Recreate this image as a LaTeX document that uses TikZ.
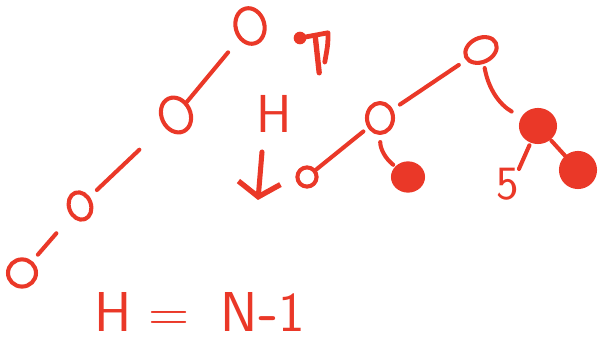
\documentclass[tikz,border=0pt]{standalone}
\usepackage{tikz}
\usetikzlibrary{arrows.meta,shapes.geometric,positioning,calc}
\definecolor{inkred}{RGB}{234,56,40}

\begin{document}
\begin{tikzpicture}[
  ink/.style={draw=inkred, line width=2.9pt, line cap=round, line join=round},
  ring/.style={ellipse, ink, inner sep=0pt, minimum width=0.72cm, minimum height=0.9cm},
  blob/.style={ellipse, ink, fill=inkred, inner sep=0pt, minimum width=0.8cm, minimum height=0.75cm},
  edge/.style={ink},
  hand/.style={text=inkred, inner sep=0pt, font=\sffamily\fontsize{38}{42}\selectfont},
]
\useasboundingbox (0,0) rectangle (15,-8.525);

%% degenerate tree (a chain)
\node[ring, rotate=15] (l1) at (6.25,-0.65) {};
\node[ring, rotate=25] (l2) at (4.4,-2.875) {};
\node[ring, rotate=20, minimum width=0.55cm, minimum height=0.7cm] (l3) at (2.0,-5.15) {};
\node[ring, minimum width=0.7cm, minimum height=0.68cm] (l4) at (0.55,-6.825) {};

\draw[edge, shorten <=12pt] (l1) -- (l2);
\draw[edge, shorten <=24pt, shorten >=7pt] (l2) -- (l3);
\draw[edge, shorten <=16pt, shorten >=6pt] (l3) -- (l4);

%% height marks
\node[hand] (hmid) at (6.85,-2.85) {H};
\coordinate (htop) at (6.55,-3.8);
\coordinate (hbot) at (6.45,-5.0);
\draw[ink, line width=3.6pt, -{Straight Barb[length=10pt, width=30pt, line width=3.8pt]}] (htop) -- (hbot);

%% mark above the H
\coordinate (pa) at (7.5,-0.95);
\coordinate (pb) at (8.2,-0.82);
\coordinate (pc) at (7.88,-0.9);
\draw[ink, line width=3.4pt] (pa) -- (pb) .. controls (8.2,-1.1) .. (8.12,-1.55);
\draw[ink, line width=3.8pt] (pc) -- (7.98,-1.82);
\fill[inkred] (pa) circle (4.5pt);

%% balanced tree
\node[ring, rotate=25, minimum width=0.82cm, minimum height=0.6cm] (r) at (12.025,-1.25) {};
\node[ring, minimum width=0.65cm, minimum height=0.75cm] (a) at (9.5,-2.95) {};
\node[blob, minimum width=0.85cm, minimum height=0.8cm] (b) at (13.45,-3.15) {};
\node[ring, minimum width=0.48cm, minimum height=0.48cm] (c) at (7.675,-4.425) {};
\node[blob, minimum width=0.75cm, minimum height=0.68cm] (d) at (10.2,-4.425) {};
\node[blob, minimum width=0.85cm, minimum height=0.85cm] (e) at (14.45,-4.25) {};
\node[hand, font=\sffamily\fontsize{34}{38}\selectfont] (five) at (12.7,-4.6) {5};

\draw[edge, shorten <=6pt, shorten >=6pt] (r) -- (a);
\draw[edge, shorten <=3pt, shorten >=8pt, bend right=25] (r) to (b);
\draw[edge, shorten <=4pt] (a) -- (c);
\draw[edge, shorten <=5pt, shorten >=2pt, bend right=25] (a) to (d);
\draw[edge, shorten <=2pt, shorten >=-1pt] (b) -- (five.north east);
\draw[edge, shorten <=1pt] (b) -- (e);

%% formula
\node[hand, font=\sffamily\fontsize{40}{44}\selectfont] (hform) at (5.0,-7.8)
  {H\hspace{12pt}=\hspace{22pt}N\textbf{-}1};

\end{tikzpicture}
\end{document}
